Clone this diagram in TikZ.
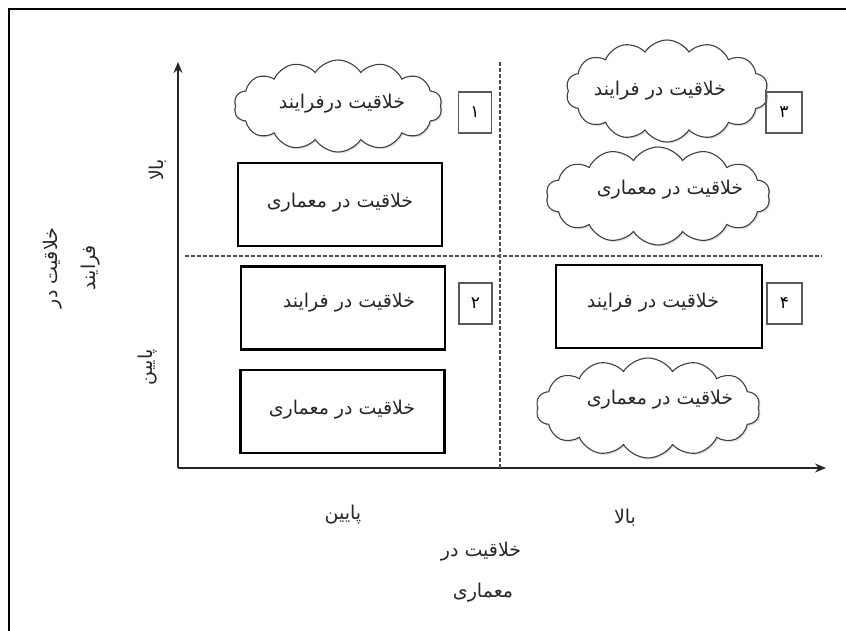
\documentclass[tikz,border=0pt]{standalone}
\usepackage{fontspec}
\usetikzlibrary{arrows.meta,shapes.symbols,shadows}
\newfontfamily\arabicfont[Script=Arabic]{DejaVu Sans}
\TeXXeTstate=1
\newcommand{\fa}[1]{{\arabicfont\beginR #1\endR}}
\begin{document}
\begin{tikzpicture}[x=1pt,y=-1pt,
  lbl/.style={font=\fontsize{19}{21}\selectfont, inner sep=0pt, text=black!85},
  boxnode/.style={draw=black, line width=2.2pt, minimum width=204pt, minimum height=83pt, inner sep=0pt},
  cloudnode/.style={cloud, draw=black!75, line width=1.1pt, fill=white, cloud puffs=14, cloud puff arc=115, aspect=2.2, inner sep=0pt,
     drop shadow={opacity=0.25, shadow xshift=1.5pt, shadow yshift=-1.5pt}},
  numbox/.style={draw=black!65, line width=1.1pt, minimum width=33pt, minimum height=41pt, inner sep=0pt, font=\fontsize{17}{19}\selectfont},
  axis/.style={line width=1.4pt, draw=black!85, -{Stealth[length=11pt,width=9pt]}},
  divider/.style={line width=1.4pt, draw=black!70, dash pattern=on 4pt off 2pt}
]
\useasboundingbox (0,0) rectangle (846,631);

% outer frame (top and left edges)
\draw[line width=2pt] (9,631) -- (9,9) -- (846,9);

% axes
\coordinate (origin) at (178,468);
\coordinate (ytip) at (178,62);
\coordinate (xtip) at (826,468);
\draw[axis] (origin) -- (ytip);
\draw[axis] (origin) -- (xtip);

% quadrant dividers
\coordinate (vtop) at (500,62);
\coordinate (vbot) at (500,468);
\coordinate (hleft) at (185,256);
\coordinate (hright) at (822,256);
\draw[divider] (vtop) -- (vbot);
\draw[divider] (hleft) -- (hright);

% quadrant 1
\node[cloudnode, minimum width=208pt, minimum height=92pt] (c1) at (338,106) {};
\node[lbl] (t1) at (342,104) {\fa{خلاقیت درفرایند}};
\node[numbox] (n1) at (475,112.5) {\fa{۱}};
\node[boxnode] (b1) at (340,204.5) {};
\node[lbl] (tb1) at (340,203) {\fa{خلاقیت در معماری}};

% quadrant 2
\node[boxnode] (b2) at (343,308) {};
\node[lbl] (tb2) at (349,303) {\fa{خلاقیت در فرایند}};
\node[numbox] (n2) at (475.5,303.5) {\fa{۲}};
\node[boxnode] (b3) at (342.5,411.5) {};
\node[lbl] (tb3) at (342,410) {\fa{خلاقیت در معماری}};

% quadrant 3
\node[cloudnode, minimum width=202pt, minimum height=102pt] (c3) at (667,91) {};
\node[lbl] (t3) at (660,91) {\fa{خلاقیت در فرایند}};
\node[numbox, minimum width=36pt] (n3) at (784,112.5) {\fa{۳}};
\node[cloudnode, minimum width=224pt, minimum height=98pt] (c4) at (658,196) {};
\node[lbl] (t4) at (670,190) {\fa{خلاقیت در معماری}};

% quadrant 4
\node[boxnode, minimum width=206pt] (b4) at (659,306.5) {};
\node[lbl] (tb4) at (653,303) {\fa{خلاقیت در فرایند}};
\node[numbox, minimum width=35pt] (n4) at (784.5,303.5) {\fa{۴}};
\node[cloudnode, minimum width=224pt, minimum height=100pt] (c5) at (648,408) {};
\node[lbl] (t5) at (660,400) {\fa{خلاقیت در معماری}};

% horizontal axis labels
\node[lbl] (xlow) at (343,515) {\fa{پایین}};
\node[lbl] (xhigh) at (625,518) {\fa{بالا}};
\node[lbl] (xtitle1) at (481,552) {\fa{خلاقیت در}};
\node[lbl] (xtitle2) at (483,593) {\fa{معماری}};

% vertical axis labels
\node[lbl, rotate=90] (yhigh) at (158,170) {\fa{بالا}};
\node[lbl, rotate=90] (ylow) at (148,367) {\fa{پایین}};
\node[lbl, rotate=90] (ytitle1) at (53,268) {\fa{خلاقیت در}};
\node[lbl, rotate=90] (ytitle2) at (91,268) {\fa{فرایند}};
\end{tikzpicture}
\end{document}
